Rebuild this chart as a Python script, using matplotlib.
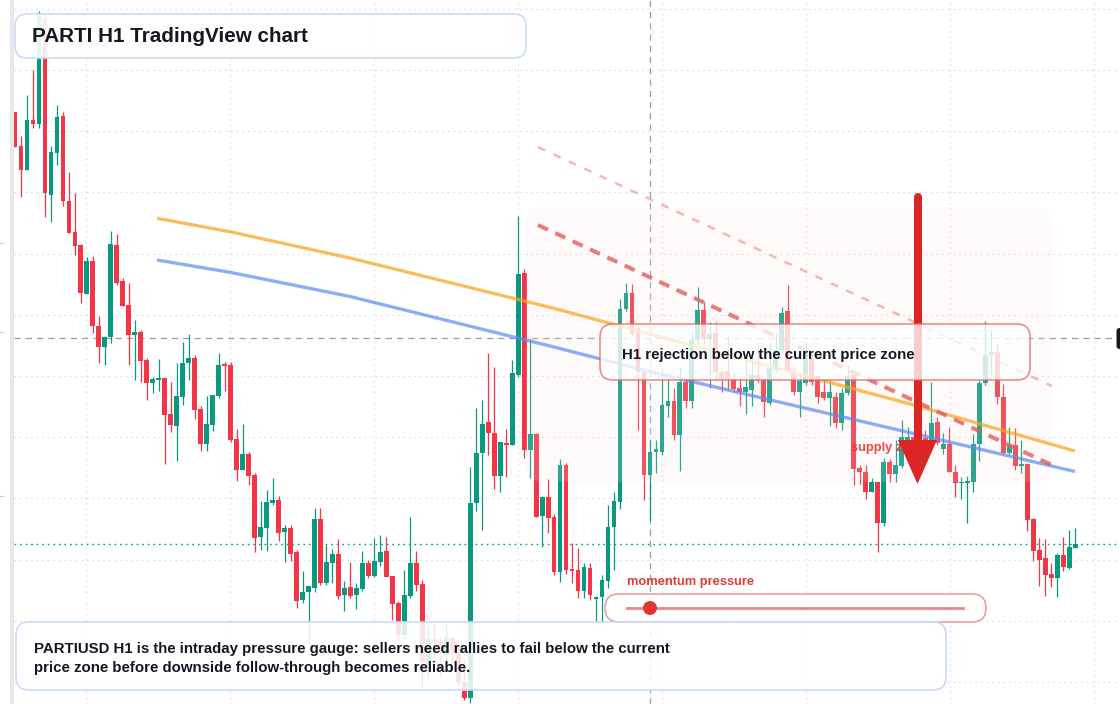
import numpy as np
import matplotlib
matplotlib.use("Agg")
import matplotlib.pyplot as plt
from matplotlib.patches import FancyBboxPatch, Polygon, Circle, Rectangle
from matplotlib.transforms import Affine2D
from matplotlib.colors import to_rgba

W, H = 1120, 704

# ------------------------------------------------------------
# PARTIUSD H1 candles
# ------------------------------------------------------------
opens = [0.688, 0.654, 0.630, 0.680, 0.676, 0.782, 0.605, 0.647, 0.684, 0.599,
         0.568, 0.555, 0.506, 0.539, 0.474, 0.453, 0.463, 0.555, 0.519, 0.495,
         0.465, 0.468, 0.440, 0.417, 0.420, 0.422, 0.386, 0.374, 0.403, 0.437,
         0.442, 0.391, 0.356, 0.375, 0.404, 0.436, 0.435, 0.361, 0.330, 0.346,
         0.325, 0.263, 0.272, 0.297, 0.300, 0.268, 0.272, 0.248, 0.200, 0.208,
         0.212, 0.281, 0.217, 0.237, 0.246, 0.205, 0.213, 0.205, 0.211, 0.237,
         0.224, 0.238, 0.249, 0.224, 0.197, 0.165, 0.204, 0.237, 0.216, 0.134,
         0.161, 0.158, 0.145, 0.162, 0.148, 0.118, 0.102, 0.297, 0.347, 0.378,
         0.367, 0.324, 0.357, 0.355, 0.425, 0.527, 0.350, 0.366, 0.284, 0.303,
         0.283, 0.228, 0.335, 0.231, 0.230, 0.209, 0.232, 0.201, 0.203, 0.219,
         0.273, 0.298, 0.491, 0.507, 0.472, 0.428, 0.325, 0.348, 0.348, 0.394,
         0.399, 0.365, 0.418, 0.399, 0.460, 0.490, 0.461, 0.467, 0.428, 0.429,
         0.421, 0.412, 0.408, 0.410, 0.425, 0.420, 0.397, 0.430, 0.450, 0.489,
         0.429, 0.408, 0.417, 0.442, 0.424, 0.408, 0.402, 0.403, 0.377, 0.407,
         0.425, 0.332, 0.328, 0.308, 0.318, 0.277, 0.338, 0.326, 0.334, 0.358,
         0.363, 0.354, 0.362, 0.353, 0.378, 0.351, 0.356, 0.328, 0.317, 0.317,
         0.318, 0.356, 0.417, 0.445, 0.448, 0.403, 0.347, 0.355, 0.334, 0.336,
         0.281, 0.250, 0.242, 0.226, 0.222, 0.245, 0.232, 0.252]
highs = [0.688, 0.664, 0.705, 0.730, 0.789, 0.786, 0.654, 0.695, 0.688, 0.628,
         0.607, 0.556, 0.543, 0.544, 0.484, 0.464, 0.569, 0.566, 0.522, 0.517,
         0.480, 0.470, 0.442, 0.423, 0.441, 0.422, 0.418, 0.437, 0.458, 0.466,
         0.445, 0.394, 0.404, 0.405, 0.447, 0.438, 0.438, 0.371, 0.376, 0.348,
         0.327, 0.299, 0.310, 0.322, 0.304, 0.275, 0.275, 0.250, 0.229, 0.214,
         0.292, 0.292, 0.255, 0.251, 0.261, 0.219, 0.238, 0.217, 0.249, 0.240,
         0.262, 0.265, 0.263, 0.224, 0.199, 0.230, 0.283, 0.249, 0.220, 0.175,
         0.176, 0.163, 0.176, 0.164, 0.160, 0.142, 0.333, 0.392, 0.400, 0.447,
         0.433, 0.358, 0.371, 0.440, 0.584, 0.531, 0.461, 0.367, 0.304, 0.321,
         0.286, 0.341, 0.337, 0.257, 0.252, 0.237, 0.237, 0.204, 0.225, 0.295,
         0.308, 0.501, 0.517, 0.516, 0.475, 0.428, 0.360, 0.360, 0.432, 0.423,
         0.412, 0.432, 0.422, 0.468, 0.513, 0.498, 0.478, 0.478, 0.430, 0.463,
         0.428, 0.422, 0.445, 0.445, 0.455, 0.423, 0.458, 0.467, 0.493, 0.515,
         0.433, 0.425, 0.458, 0.448, 0.425, 0.421, 0.420, 0.408, 0.412, 0.434,
         0.425, 0.335, 0.335, 0.322, 0.318, 0.342, 0.341, 0.360, 0.380, 0.373,
         0.370, 0.375, 0.370, 0.418, 0.383, 0.367, 0.373, 0.335, 0.323, 0.324,
         0.366, 0.420, 0.479, 0.470, 0.457, 0.416, 0.373, 0.372, 0.360, 0.337,
         0.282, 0.262, 0.261, 0.237, 0.247, 0.263, 0.270, 0.272]
lows = [0.653, 0.603, 0.630, 0.672, 0.672, 0.583, 0.578, 0.635, 0.594, 0.567,
        0.545, 0.497, 0.506, 0.467, 0.437, 0.435, 0.457, 0.515, 0.494, 0.435,
        0.420, 0.418, 0.400, 0.407, 0.409, 0.336, 0.368, 0.339, 0.395, 0.420,
        0.381, 0.349, 0.349, 0.369, 0.402, 0.409, 0.358, 0.319, 0.330, 0.315,
        0.248, 0.250, 0.249, 0.295, 0.259, 0.238, 0.239, 0.192, 0.197, 0.155,
        0.208, 0.215, 0.215, 0.217, 0.201, 0.189, 0.202, 0.191, 0.209, 0.222,
        0.223, 0.234, 0.223, 0.180, 0.160, 0.162, 0.202, 0.209, 0.113, 0.122,
        0.142, 0.123, 0.137, 0.137, 0.115, 0.100, 0.097, 0.289, 0.270, 0.345,
        0.311, 0.308, 0.323, 0.355, 0.423, 0.342, 0.322, 0.283, 0.253, 0.267,
        0.225, 0.218, 0.226, 0.217, 0.202, 0.202, 0.200, 0.178, 0.178, 0.212,
        0.230, 0.291, 0.489, 0.464, 0.370, 0.300, 0.280, 0.327, 0.345, 0.383,
        0.360, 0.329, 0.392, 0.392, 0.455, 0.455, 0.412, 0.420, 0.408, 0.410,
        0.409, 0.394, 0.386, 0.394, 0.418, 0.383, 0.395, 0.428, 0.448, 0.428,
        0.405, 0.383, 0.415, 0.415, 0.397, 0.400, 0.374, 0.372, 0.370, 0.405,
        0.315, 0.316, 0.301, 0.308, 0.248, 0.274, 0.318, 0.318, 0.332, 0.355,
        0.350, 0.345, 0.348, 0.352, 0.355, 0.346, 0.328, 0.303, 0.301, 0.277,
        0.308, 0.339, 0.415, 0.425, 0.396, 0.345, 0.345, 0.330, 0.327, 0.269,
        0.239, 0.214, 0.204, 0.213, 0.203, 0.229, 0.231, 0.252]
closes = [0.653, 0.630, 0.680, 0.676, 0.784, 0.607, 0.648, 0.683, 0.599, 0.567,
          0.554, 0.507, 0.539, 0.474, 0.453, 0.463, 0.556, 0.517, 0.494, 0.465,
          0.468, 0.439, 0.417, 0.421, 0.422, 0.385, 0.375, 0.404, 0.437, 0.442,
          0.390, 0.356, 0.376, 0.405, 0.435, 0.434, 0.360, 0.330, 0.346, 0.324,
          0.262, 0.273, 0.298, 0.300, 0.267, 0.272, 0.246, 0.199, 0.208, 0.214,
          0.281, 0.217, 0.238, 0.246, 0.204, 0.212, 0.204, 0.212, 0.237, 0.224,
          0.239, 0.248, 0.223, 0.196, 0.165, 0.205, 0.237, 0.215, 0.138, 0.161,
          0.158, 0.150, 0.162, 0.148, 0.118, 0.102, 0.297, 0.347, 0.376, 0.367,
          0.324, 0.358, 0.355, 0.427, 0.526, 0.350, 0.366, 0.283, 0.303, 0.282,
          0.228, 0.335, 0.230, 0.229, 0.209, 0.233, 0.205, 0.203, 0.220, 0.273,
          0.299, 0.491, 0.507, 0.466, 0.428, 0.325, 0.348, 0.351, 0.395, 0.399,
          0.365, 0.418, 0.399, 0.460, 0.490, 0.461, 0.466, 0.428, 0.421, 0.421,
          0.411, 0.408, 0.413, 0.425, 0.420, 0.398, 0.432, 0.450, 0.487, 0.429,
          0.408, 0.419, 0.450, 0.418, 0.403, 0.402, 0.408, 0.377, 0.407, 0.424,
          0.331, 0.328, 0.308, 0.318, 0.277, 0.338, 0.326, 0.335, 0.363, 0.363,
          0.355, 0.362, 0.355, 0.377, 0.357, 0.356, 0.328, 0.317, 0.318, 0.319,
          0.356, 0.417, 0.445, 0.448, 0.403, 0.347, 0.355, 0.334, 0.336, 0.280,
          0.249, 0.240, 0.225, 0.222, 0.245, 0.233, 0.253, 0.256]

# moving averages, read at anchor bars
ema_fast_x = [23.71, 35.89, 55.93, 89.32, 149.42, 176.96]
ema_fast_y = [0.5817, 0.5683, 0.5420, 0.4927, 0.3960, 0.3490]
ema_slow_x = [23.71, 35.89, 55.93, 89.32, 106.01, 149.42, 176.96]
ema_slow_y = [0.5400, 0.5277, 0.5035, 0.4540, 0.4283, 0.3673, 0.3285]

# rejection channel (two dashed rails)
chan_x = [87.3, 173.1]
chan_lower = [0.575, 0.335]
chan_upper = [0.653, 0.414]

cross_bar = 106.0
cross_price = 0.462
last_price = closes[-1]

GREEN = "#089981"
RED = "#f23645"
TEXT = "#131722"

# ------------------------------------------------------------
# figure / axes
# ------------------------------------------------------------
fig = plt.figure(figsize=(W / 100, H / 100), dpi=100)
ax = fig.add_axes([0, 0, 1, 1])
step = 5.99          # pixels per bar
x0 = 15.0            # pixel of first bar
ax.set_xlim(-x0 / step, (W - x0) / step)
ax.set_ylim(0.096, 0.800)
ax.axis("off")

px = Affine2D().scale(1, -1).translate(0, H)   # pixel coords, y down
left_idx = (14 - x0) / step

# grid
for gy in np.arange(0.118, 0.80, 0.0612):
    ax.plot([left_idx, ax.get_xlim()[1]], [gy, gy], color="#d9dbe0", lw=0.8,
            linestyle=(0, (1.4, 3.6)), zorder=1)
for gx in np.arange(11.85, 185, 24.05):
    ax.plot([gx, gx], [0.096, 0.8], color="#d9dbe0", lw=0.8,
            linestyle=(0, (1.4, 3.6)), zorder=1)

# crosshair + last price line
ax.plot([left_idx, (1117 - x0) / step], [cross_price, cross_price], color="#9a9ca3",
        lw=0.9, linestyle=(0, (5, 4)), zorder=1.5)
ax.plot([cross_bar, cross_bar], [0.096, 0.8], color="#9a9ca3",
        lw=0.9, linestyle=(0, (5, 4)), zorder=1.5)
ax.plot([left_idx, ax.get_xlim()[1]], [last_price, last_price], color=GREEN,
        lw=1.0, linestyle=(0, (1.2, 2.8)), zorder=2)

# candles
o = np.array(opens)
h = np.array(highs)
l = np.array(lows)
c = np.array(closes)
xs = np.arange(len(o))
cols = np.where(c >= o, GREEN, RED)
ax.vlines(xs, l, h, colors=cols, lw=0.9, zorder=3)
body = np.maximum(np.abs(c - o), 0.0015)
ax.bar(xs, body, bottom=np.minimum(o, c), width=0.8, color=cols, zorder=3.1)

# zone shading
ax.add_patch(FancyBboxPatch((526, 207), 526, 275, boxstyle="round,pad=0,rounding_size=16",
                            transform=px, fc=to_rgba("#f7e6dc", 0.16), ec="none", zorder=4))

# moving averages
ax.plot(ema_fast_x, ema_fast_y, color="#f5a623", alpha=0.72, lw=2.4,
        solid_capstyle="butt", solid_joinstyle="round", zorder=5)
ax.plot(ema_slow_x, ema_slow_y, color="#5b8def", alpha=0.7, lw=2.4,
        solid_capstyle="butt", solid_joinstyle="round", zorder=5)

# channel rails
ax.plot(chan_x, chan_lower, color="#e35d5d", alpha=0.8, lw=2.9,
        dashes=(2.75, 2.0), zorder=6)
ax.plot(chan_x, chan_upper, color="#ee8a8a", alpha=0.6, lw=1.8,
        dashes=(3.2, 3.6), zorder=6)

# supply zone label
ax.text(851, 448, "supply zone", transform=px, color="#e53935", alpha=0.9,
        fontsize=9.3, fontweight="bold", family="Liberation Sans",
        ha="left", va="center", zorder=7)

# arrow
ax.plot([918, 918], [197, 445], transform=px, color="#dc2626", lw=5.8,
        solid_capstyle="round", zorder=8)
ax.add_patch(Polygon([(898, 440), (937, 440), (917.5, 484)], closed=True,
                     transform=px, fc="#dc2626", ec="none", zorder=8))

# rejection annotation
ax.add_patch(FancyBboxPatch((600, 324), 430, 56, boxstyle="round,pad=0,rounding_size=13",
                            transform=px, fc=to_rgba("white", 0.78),
                            ec=to_rgba("#e06060", 0.7), lw=1.2, zorder=9))
ax.text(622, 354.5, "H1 rejection below the current price zone", transform=px,
        color=TEXT, fontsize=10.8, fontweight="bold", family="Liberation Sans",
        ha="left", va="center", zorder=10)

# momentum gauge
ax.text(627, 582.5, "momentum pressure", transform=px, color="#e53935",
        fontsize=9.3, fontweight="bold", family="Liberation Sans",
        ha="left", va="center", zorder=10)
ax.add_patch(FancyBboxPatch((605, 594), 381, 28, boxstyle="round,pad=0,rounding_size=14",
                            transform=px, fc=to_rgba("white", 0.9),
                            ec=to_rgba("#e06060", 0.65), lw=1.1, zorder=9))
ax.plot([627, 963], [608, 608], transform=px, color="#e57373", alpha=0.85, lw=2.0,
        zorder=10)
ax.add_patch(Circle((650, 608), 7, transform=px, fc="#e03535", ec="none", zorder=10.5))

# bottom note
ax.add_patch(FancyBboxPatch((16, 622), 930, 68, boxstyle="round,pad=0,rounding_size=13",
                            transform=px, fc=to_rgba("white", 0.85),
                            ec=to_rgba("#c9dbf7", 1.0), lw=1.2, zorder=11))
ax.text(34, 658.5, "PARTIUSD H1 is the intraday pressure gauge: sellers need rallies to fail below the current\n"
                   "price zone before downside follow-through becomes reliable.",
        transform=px, color=TEXT, fontsize=10.8, fontweight="bold", family="Liberation Sans",
        ha="left", va="center", linespacing=1.5, zorder=12)

# title
ax.add_patch(FancyBboxPatch((15, 14), 511, 44, boxstyle="round,pad=0,rounding_size=12",
                            transform=px, fc=to_rgba("white", 0.9),
                            ec=to_rgba("#c9dbf7", 1.0), lw=1.2, zorder=11))
ax.text(32, 37, "PARTI H1 TradingView chart", transform=px, color=TEXT,
        fontsize=14.9, fontweight="bold", family="Liberation Sans",
        ha="left", va="center", zorder=12)

# left edge strip, stray axis ticks, right price tag
ax.add_patch(Rectangle((10, 0), 4, H, transform=px, fc="#e8e8e8", ec="none",
                       zorder=12, clip_on=False))
for ty in [243, 332, 496]:
    ax.plot([0, 3], [ty, ty], transform=px, color="#cccccc", lw=0.8, zorder=12)
ax.add_patch(FancyBboxPatch((1116.5, 328), 20, 21, boxstyle="round,pad=0,rounding_size=3",
                            transform=px, fc=TEXT, ec="none", zorder=12))

fig.savefig("out.png", dpi=100)
